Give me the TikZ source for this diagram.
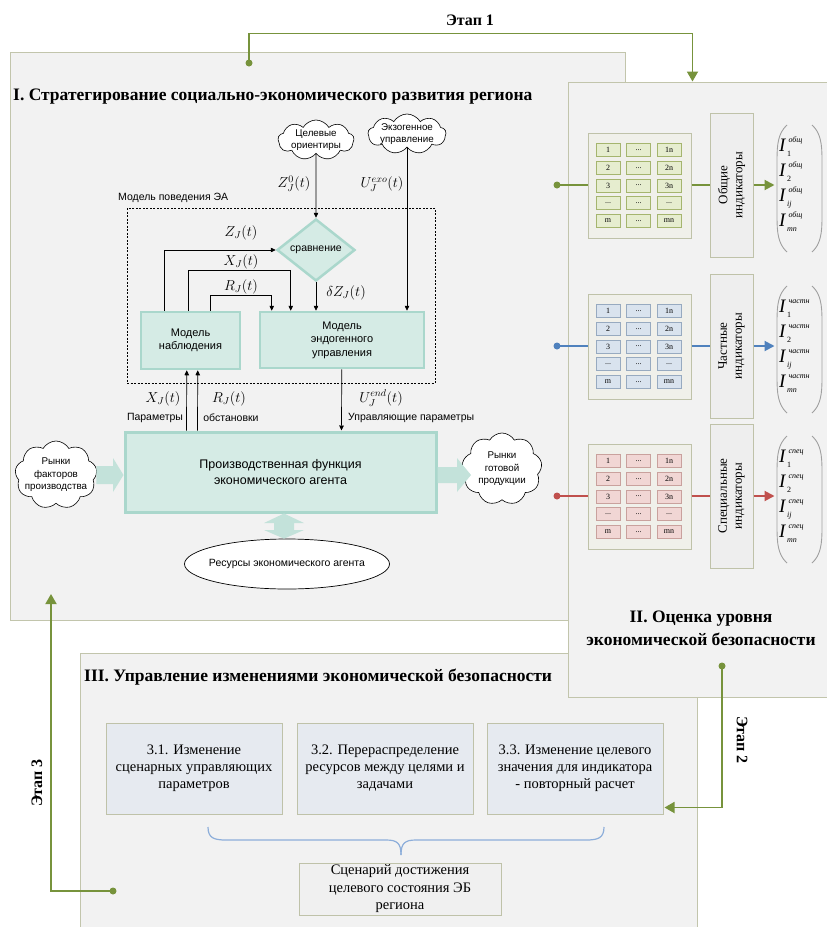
\documentclass[tikz,border=0pt]{standalone}
\usepackage{amsmath}
\usepackage{fontspec}
\setmainfont{Liberation Serif}
\newfontfamily\sansf{Liberation Sans}
\usetikzlibrary{arrows.meta,shapes.geometric,shapes.symbols,fit,calc}

\definecolor{panelfill}{HTML}{F2F2F2}
\definecolor{panelline}{HTML}{C2C5AC}
\definecolor{tealfill}{HTML}{D5EBE5}
\definecolor{tealline}{HTML}{AAD7CC}
\definecolor{tealarr}{HTML}{C3E2DA}
\definecolor{egreen}{HTML}{77933C}
\definecolor{eblue}{HTML}{4F81BD}
\definecolor{ered}{HTML}{C0504D}
\definecolor{gfill}{HTML}{E6EDCF}
\definecolor{gline}{HTML}{A5B56E}
\definecolor{bfill}{HTML}{D9E3EE}
\definecolor{bline}{HTML}{97AAC0}
\definecolor{rfill}{HTML}{F1D6D4}
\definecolor{rline}{HTML}{C9A19D}
\definecolor{matfill}{HTML}{F0F0EA}
\definecolor{matline}{HTML}{BFC2A9}
\definecolor{indfill}{HTML}{EEEEEE}
\definecolor{boxfill}{HTML}{E6EAF0}
\definecolor{fboxfill}{HTML}{F0F0F0}
\definecolor{bracec}{HTML}{8DAEDA}
\definecolor{parenc}{HTML}{A0A0A0}

\newcommand\titlef{\bfseries\fontsize{17.5}{23}\selectfont}
\newcommand\etapf{\bfseries\fontsize{16}{19}\selectfont}
\newcommand\sansM{\sansf\fontsize{11}{13.5}\selectfont}
\newcommand\sansS{\sansf\fontsize{10.5}{13}\selectfont}
\newcommand\cloudf{\sansf\fontsize{9.8}{12.5}\selectfont}
\newcommand\prodf{\sansf\fontsize{12.5}{15.5}\selectfont}
\newcommand\mathlf{\fontsize{14.4}{16}\selectfont}
\newcommand\serifM{\fontsize{14.5}{17}\selectfont}
\newcommand\indf{\fontsize{13}{15}\selectfont}
\newcommand\cellf{\fontsize{8}{9}\selectfont}
\newcommand\supf{\fontsize{8}{9}\selectfont}
\newcommand\Ifont{\fontsize{19}{20}\selectfont}
\newcommand\dd{...}
\newcommand\Iel[2]{\textit{I}\kern0.8pt\rlap{\kern1.5pt\raisebox{9.5pt}{\supf\textit{#1}}}\raisebox{-4.5pt}{\supf #2}}

\tikzset{
 panel/.style={draw=panelline, fill=panelfill, line width=1pt, inner sep=0pt},
 tealbox/.style={draw=tealline, fill=tealfill, line width=2.5pt, inner sep=0pt, align=center, font=\sansM},
 cloudn/.style={cloud, cloud puffs=9, cloud puff arc=120, cloud ignores aspect, draw=black, fill=white, line width=0.6pt, inner sep=0pt},
 arr/.style={-{Triangle[length=5pt,width=4.5pt]}, line width=0.7pt},
 matbox/.style={draw=matline, fill=matfill, line width=1pt, inner sep=0pt},
 cellbox/.style={minimum width=24pt, minimum height=13pt, inner sep=0pt, line width=0.8pt, font=\cellf},
 indbox/.style={draw=matline, fill=indfill, line width=1pt, inner sep=0pt},
 lbox/.style={draw=matline, fill=boxfill, line width=1pt, inner sep=0pt, align=center, font=\serifM},
 etapline/.style={line width=1.8pt, draw=egreen},
 etaparr/.style={etapline, -{Triangle[length=10pt,width=11pt]}},
 mlabel/.style={font=\mathlf, inner sep=0pt},
 ient/.style={anchor=base west, font=\Ifont, inner sep=0pt},
}

\newcommand\indrow[7]{%
 \coordinate (#1dot) at (557,#2);
 \node[matbox, fit={(588,{#2-52}) (691,{#2+53})}] (#1M) {};
 \foreach \a/\b/\c [count=\i from 0] in {1/\dd/1n, 2/\dd/2n, 3/\dd/3n, \dd/\dd/\dd, m/\dd/mn}{
   \node[cellbox, fill=#3, draw=#4] (#1c\i a) at (608,{#2-35+17.75*\i}) {\a};
   \node[cellbox, fill=#3, draw=#4] (#1c\i b) at (638.5,{#2-35+17.75*\i}) {\b};
   \node[cellbox, fill=#3, draw=#4] (#1c\i c) at (669,{#2-35+17.75*\i}) {\c};
 }
 \node[indbox, fit={(710,{#2-72}) (753,{#2+72})}] (#1I) {};
 \node[rotate=90, font=\indf, align=center] (#1It) at (#1I.center) {#6};
 \draw[line width=1.3pt, draw=#5] (#1dot) -- (#1dot -| #1M.west);
 \fill[#5] (#1dot) circle (3.5pt);
 \draw[line width=1.3pt, draw=#5] (#1M.east |- #1dot) -- (#1I.west |- #1dot);
 \draw[line width=2pt, draw=#5, -{Triangle[length=10pt,width=10pt]}] (#1I.east |- #1dot) -- ++(21,0) coordinate (#1tip);
 \draw[parenc, line width=0.9pt] (787,{#2-60}) .. controls (778,{#2-52}) and (777,{#2-40}) .. (777,{#2-25}) -- (777,{#2+32}) .. controls (777,{#2+47}) and (778,{#2+59}) .. (787,{#2+67});
 \draw[parenc, line width=0.9pt] (812,{#2-60}) .. controls (821,{#2-52}) and (822,{#2-40}) .. (822,{#2-25}) -- (822,{#2+32}) .. controls (822,{#2+47}) and (821,{#2+59}) .. (812,{#2+67});
 \node[ient] (#1e1) at (779,{#2-40+6.5}) {\Iel{#7}{1}};
 \node[ient] (#1e2) at (779,{#2-15+6.5}) {\Iel{#7}{2}};
 \node[ient] (#1e3) at (779,{#2+10+6.5}) {\Iel{#7}{\textit{ij}}};
 \node[ient] (#1e4) at (779,{#2+35+6.5}) {\Iel{#7}{\textit{mn}}};
}

\begin{document}
\begin{tikzpicture}[x=1pt,y=-1pt]
\useasboundingbox[fill=white] (0,0) rectangle (827,927);

% panels
\node[panel, fit={(10,52) (625,620)}] (P1) {};
\node[panel, fit={(80,653) (697,929)}] (P3) {};
\node[panel, fit={(568,82) (829,697)}] (P2) {};

% titles
\node[anchor=west, font=\titlef, inner sep=0pt] (T1) at (13,97) {I. Стратегирование социально-экономического развития региона};
\node[font=\titlef, align=center, inner sep=0pt] (T2) at (701,628) {II. Оценка уровня\\экономической безопасности};
\node[anchor=west, font=\titlef, inner sep=0pt] (T3) at (84,677) {III. Управление изменениями экономической безопасности};

% clouds
\node[cloudn, minimum width=76pt, minimum height=40pt] (C1) at (316,140) {};
\node[font=\cloudf, align=center, inner sep=0pt] (C1t) at (C1.center) {Целевые\\ориентиры};
\node[cloudn, minimum width=78pt, minimum height=40pt] (C2) at (407,134) {};
\node[font=\cloudf, align=center, inner sep=0pt] (C2t) at (C2.center) {Экзогенное\\управление};
\node[cloudn, minimum width=82pt, minimum height=68pt] (CL) at (56,475) {};
\node[font=\cloudf, align=center, inner sep=0pt] (CLt) at (CL.center) {Рынки\\факторов\\производства};
\node[cloudn, minimum width=80pt, minimum height=72pt] (CR) at (502,469) {};
\node[font=\cloudf, align=center, inner sep=0pt] (CRt) at (CR.center) {Рынки\\готовой\\продукции};

% behaviour model
\node[draw, dashed, dash pattern=on 2pt off 1.5pt, line width=0.7pt, fit={(127,208) (435,383)}, inner sep=0pt] (DB) {};
\node[anchor=west, font=\sansS, inner sep=0pt] (DBt) at (118,198) {Модель поведения ЭА};
\node[diamond, draw=tealline, fill=tealfill, line width=2.5pt, minimum width=78pt, minimum height=62pt, inner sep=0pt, font=\sansS] (D) at (316,250) {сравнение};
\node[tealbox, minimum width=99pt, minimum height=57pt] (O) at (190.5,340.5) {Модель\\наблюдения};
\node[tealbox, minimum width=164pt, minimum height=56pt] (E) at (342,340) {Модель\\эндогенного\\управления};
\node[tealbox, line width=3pt, font=\prodf, minimum width=311pt, minimum height=80pt] (PF) at (280.5,472) {Производственная функция\\экономического агента};
\node[ellipse, draw, fill=white, line width=0.7pt, minimum width=205pt, minimum height=50pt, inner sep=0pt] (RES) at (287,564) {};
\node[font=\sansS, inner sep=0pt] (RESt) at (RES.center) {Ресурсы экономического агента};

% connectors
\draw[arr] (C1.south) -- (D.north);
\draw[arr] (C2.south) -- (C2.south |- E.north);
\draw[arr] (D.south) -- (D.south |- E.north);
\draw[arr] ($(O.north west)+(25,0)$) |- (D.west);
\draw[arr] ($(O.north west)+(49,0)$) -- ++(0,-40) -| ($(E.north west)+(32,0)$);
\draw[arr] ($(O.north west)+(71,0)$) -- ++(0,-15) -| ($(E.north west)+(13,0)$);
\draw[arr] ($(PF.north west)+(63,0)$) -- ($(O.south west)+(47,0)$);
\draw[arr] ($(PF.north west)+(74,0)$) -- ($(O.south west)+(58,0)$);
\draw[arr] ($(E.south west)+(83,0)$) -- ($(PF.north west)+(218,0)$);

% labels
\node[mlabel] (lZ0) at (294,184) {$Z_J^0(t)$};
\node[mlabel] (lUexo) at (382,184) {$U_J^{exo}(t)$};
\node[mlabel] (lZ) at (241,233) {$Z_J(t)$};
\node[mlabel] (lX) at (241,262) {$X_J(t)$};
\node[mlabel] (lR) at (241,287) {$R_J(t)$};
\node[mlabel] (ldZ) at (346,293) {$\delta Z_J(t)$};
\node[mlabel] (lX2) at (163,399) {$X_J(t)$};
\node[mlabel] (lR2) at (229,399) {$R_J(t)$};
\node[mlabel] (lUend) at (381,398) {$U_J^{end}(t)$};
\node[font=\sansS, inner sep=0pt] (lpar) at (155,418) {Параметры};
\node[font=\sansS, inner sep=0pt] (lobs) at (231,418) {обстановки};
\node[anchor=west, font=\sansS, inner sep=0pt] (lup) at (348,418) {Управляющие параметры};

% thick arrows
\fill[tealarr] (CL.east |- 0,466) -- (113,466) -- (113,458) -- (PF.west |- 0,475) -- (113,492) -- (113,484) -- (CL.east |- 0,484) -- cycle;
\fill[tealarr] (PF.east |- 0,467) -- (457,467) -- (457,458) -- (471,475) -- (457,492) -- (457,483) -- (PF.east |- 0,483) -- cycle;
\fill[tealarr] (PF.south -| 284,0) -- (304,523) -- (294,523) -- (294,530) -- (304,530) -- (RES.north -| 284,0) -- (264,530) -- (274,530) -- (274,523) -- (264,523) -- cycle;

% right panel rows
\indrow{g}{185}{gfill}{gline}{egreen}{Общие\\индикаторы}{общ}
\indrow{b}{346}{bfill}{bline}{eblue}{Частные\\индикаторы}{частн}
\indrow{r}{496}{rfill}{rline}{ered}{Специальные\\индикаторы}{спец}

% panel III
\node[lbox, minimum width=176pt, minimum height=91pt] (B31) at (194,768.5) {3.1. Изменение\\сценарных управляющих\\параметров};
\node[lbox, minimum width=176pt, minimum height=91pt] (B32) at (385,768.5) {3.2. Перераспределение\\ресурсов между целями и\\задачами};
\node[lbox, minimum width=176pt, minimum height=91pt] (B33) at (575,768.5) {3.3. Изменение целевого\\значения для индикатора\\- повторный расчет};
\node[lbox, fill=fboxfill, font=\fontsize{14.5}{17.5}\selectfont, minimum width=202pt, minimum height=52pt] (BF) at (400,889) {Сценарий достижения\\целевого состояния ЭБ\\региона};
\draw[bracec, line width=1.2pt] (208,827) .. controls (208,838) and (214,840) .. (226,840) -- (386,840) .. controls (397,840) and (401,843) .. (401,855);
\draw[bracec, line width=1.2pt] (604,827) .. controls (604,838) and (598,840) .. (586,840) -- (416,840) .. controls (405,840) and (401,843) .. (401,855);

% stages
\coordinate (E1a) at (249,63);
\coordinate (E1b) at ($(P2.north west)+(125,0)$);
\draw[etaparr] (E1a) |- ($(E1b)+(0,-48)$) -- (E1b);
\fill[egreen] (E1a) circle (3.5pt);
\node[font=\etapf] (L1) at (470,20) {Этап 1};

\coordinate (E2a) at (722,666);
\draw[etaparr] (E2a) |- ($(B33.south east)+(1,-7)$);
\fill[egreen] (E2a) circle (3.5pt);
\node[font=\etapf, rotate=-90] (L2) at (742,740) {Этап 2};

\coordinate (E3a) at (113,891);
\coordinate (E3b) at (51,594);
\draw[etaparr] (E3a) -| (E3b);
\fill[egreen] (E3a) circle (3.5pt);
\node[font=\etapf, rotate=90] (L3) at (37,783) {Этап 3};
\end{tikzpicture}
\end{document}
